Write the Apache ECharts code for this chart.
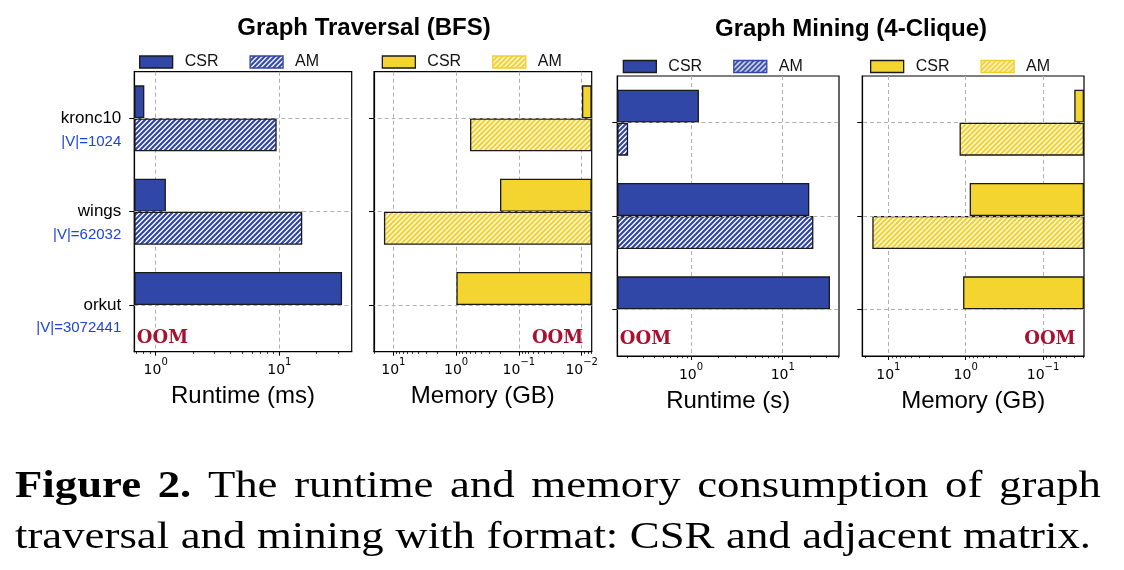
<!DOCTYPE html>
<html><head><meta charset="utf-8">
<script src="https://cdn.jsdelivr.net/npm/echarts@6/dist/echarts.min.js"></script>
<style>html,body{margin:0;padding:0;background:#fff}#c{width:1124px;height:570px}</style>
</head><body><div id="c"></div>
<script>
// ---------------- data ----------------
const categories = ['kronc10', 'wings', 'orkut'];
const vertexLabels = ['|V|=1024', '|V|=62032', '|V|=3072441'];
const bfsRuntimeCSR = [0.81, 1.21, 32.1];     // ms
const bfsRuntimeAM = [9.5, 15.3, null];       // null = OOM
const bfsMemoryCSR = [0.0099, 0.20, 0.99];    // GB
const bfsMemoryAM = [0.60, 14.1, null];
const miningRuntimeCSR = [1.22, 19.5, 32.8];  // s
const miningRuntimeAM = [0.206, 21.6, null];
const miningMemoryCSR = [0.0394, 0.887, 1.08];
const miningMemoryAM = [1.20, 16.1, null];
const legendNames = ['CSR', 'AM'];
const oomLabel = 'OOM';
const panelTitles = ['Graph Traversal (BFS)', 'Graph Mining (4-Clique)'];
const axisNames = ['Runtime (ms)', 'Memory (GB)', 'Runtime (s)', 'Memory (GB)'];
const captionBold = 'Figure 2.';
const captionRest1 = 'The runtime and memory consumption of graph';
const captionLine2 = 'traversal and mining with format: CSR and adjacent matrix.';

// ---------------- styling ----------------
const BLUE = '#3147a8', YELLOW = '#f4d42e', EDGE = '#1a1a1a', GRIDC = '#b0b0b0';
const SANS = 'Liberation Sans';
function hatch(bg, fg, lw) {
  const s = 5, c = document.createElement('canvas');
  c.width = c.height = s;
  const x = c.getContext('2d');
  x.fillStyle = bg; x.fillRect(0, 0, s, s);
  x.strokeStyle = fg; x.lineWidth = lw; x.beginPath();
  x.moveTo(0, s); x.lineTo(s, 0);
  x.moveTo(-1, 1); x.lineTo(1, -1);
  x.moveTo(s - 1, s + 1); x.lineTo(s + 1, s - 1);
  x.stroke();
  return { image: c, repeat: 'repeat' };
}
const blueHatch = hatch('#ffffff', BLUE, 2.2);
const yellowHatch = hatch('#fdf6d2', '#f0cf2a', 1.9);
function decadeLabel(v) {
  const e = Math.round(Math.log10(v));
  return '{a|10}{s|' + String(e).replace('-', '\u2212') + '}';
}
const tickRich = {
  a: { fontFamily: 'DejaVu Sans', fontSize: 14, lineHeight: 20, verticalAlign: 'bottom', color: '#000' },
  s: { fontFamily: 'DejaVu Sans', fontSize: 10, lineHeight: 15, verticalAlign: 'top', color: '#000' }
};
function decades(min, max) {
  const r = [];
  for (let k = Math.floor(Math.log10(min)); k <= Math.ceil(Math.log10(max)); k++) {
    const v = Math.pow(10, k); if (v >= min && v <= max) r.push(v);
  }
  return r;
}
function minors(min, max) {
  const r = [];
  for (let k = Math.floor(Math.log10(min)); k <= Math.ceil(Math.log10(max)); k++) {
    for (let m = 2; m <= 9; m++) { const v = m * Math.pow(10, k); if (v > min && v < max) r.push(v); }
  }
  return r;
}

const panels = [
  { csr: bfsRuntimeCSR, am: bfsRuntimeAM, range: [0.672, 38.4], inverse: false, color: BLUE, pat: blueHatch, amBorder: BLUE,
    grid: { left: 134.3, top: 71.7, width: 217.4, height: 280 }, legendLeft: 139, legendTop: 54, oomDy: 17 },
  { csr: bfsMemoryCSR, am: bfsMemoryAM, range: [0.00693, 20.3], inverse: true, color: YELLOW, pat: yellowHatch, amBorder: '#f0cf2a',
    grid: { left: 374, top: 71.7, width: 217.7, height: 280 }, legendLeft: 381.7, legendTop: 54, oomDy: 17 },
  { csr: miningRuntimeCSR, am: miningRuntimeAM, range: [0.157, 41.1], inverse: false, color: BLUE, pat: blueHatch, amBorder: BLUE,
    grid: { left: 617.3, top: 76, width: 221.7, height: 280 }, legendLeft: 622.7, legendTop: 58.5, oomDy: 13 },
  { csr: miningMemoryCSR, am: miningMemoryAM, range: [0.0295, 21.7], inverse: true, color: YELLOW, pat: yellowHatch, amBorder: '#f0cf2a',
    grid: { left: 862.3, top: 76, width: 221.7, height: 280 }, legendLeft: 870, legendTop: 58.5, oomDy: 13 }
];
const zw = i => '\u200b'.repeat(i);

const grid = [], xAxis = [], yAxis = [], series = [], legend = [];
panels.forEach((p, i) => {
  grid.push(Object.assign({ show: true, borderColor: '#000', borderWidth: 1.2, backgroundColor: 'transparent' }, p.grid));
  xAxis.push({
    type: 'log', logBase: 10, gridIndex: i, min: p.range[0], max: p.range[1], inverse: p.inverse, startValue: p.range[0],
    axisLine: { show: true, onZero: false, lineStyle: { color: '#000', width: 1.2 } },
    axisTick: { show: true, length: 4, customValues: decades(p.range[0], p.range[1]), lineStyle: { color: '#000', width: 1 } },
    axisLabel: { show: true, formatter: decadeLabel, showMinLabel: false, showMaxLabel: false, rich: tickRich, margin: 6 },
    splitLine: { show: true, lineStyle: { color: GRIDC, type: [4, 3], width: 1 } },
    name: axisNames[i], nameLocation: 'middle', nameGap: 33,
    nameTextStyle: { fontFamily: SANS, fontSize: 24, color: '#000' }
  });
  xAxis.push({
    type: 'log', logBase: 10, gridIndex: i, min: p.range[0], max: p.range[1], inverse: p.inverse, position: 'bottom',
    axisLine: { show: false, onZero: false }, axisLabel: { show: false }, splitLine: { show: false },
    axisTick: { show: true, length: 2.2, customValues: minors(p.range[0], p.range[1]), lineStyle: { color: '#000', width: 0.8 } }
  });
  yAxis.push({
    type: 'category', gridIndex: i, data: categories, inverse: true,
    axisLine: { show: true, onZero: false, lineStyle: { color: '#000', width: 1.2 } },
    axisTick: { show: true, alignWithLabel: true, length: 5, lineStyle: { color: '#000', width: 1 } },
    splitLine: { show: false },
    axisLabel: i === 0 ? {
      show: true, margin: 13, padding: [23, 0, 0, 0],
      formatter: (v, idx) => '{a|' + v + '}\n{b|' + vertexLabels[idx] + '}',
      rich: {
        a: { fontFamily: SANS, fontSize: 17, color: '#000', lineHeight: 23, align: 'right' },
        b: { fontFamily: SANS, fontSize: 15, color: '#1f45d8', lineHeight: 23, align: 'right' }
      }
    } : { show: false }
  });
  const csrName = legendNames[0] + zw(i), amName = legendNames[1] + zw(i);
  series.push({
    type: 'line', data: [], xAxisIndex: 2 * i, yAxisIndex: i, z: 1, silent: true,
    markLine: { silent: true, animation: false, symbol: ['none', 'none'], label: { show: false },
      lineStyle: { color: GRIDC, type: [4, 3], width: 1 }, data: categories.map(c => ({ yAxis: c })) }
  });
  series.push({
    type: 'bar', name: csrName, xAxisIndex: 2 * i, yAxisIndex: i, data: p.csr, barWidth: 33, barGap: '0%', z: 2,
    animation: false, itemStyle: { color: p.color, borderColor: EDGE, borderWidth: 1.3 }
  });
  series.push({
    type: 'bar', name: amName, xAxisIndex: 2 * i, yAxisIndex: i, data: p.am, barWidth: 33, barGap: '0%', z: 2,
    animation: false, itemStyle: { color: p.pat, borderColor: EDGE, borderWidth: 1.3 },
    markPoint: {
      silent: true, animation: false, symbol: 'rect', symbolSize: 1, itemStyle: { color: 'rgba(0,0,0,0)' },
      data: [{ coord: [p.range[0], categories[2]], name: 'oom' }],
      label: { show: true, formatter: oomLabel, position: p.inverse ? 'left' : 'right', distance: p.inverse ? 8 : 2,
        offset: [0, p.oomDy], color: '#a8102e', fontFamily: 'DejaVu Serif', fontWeight: 'bold', fontSize: 18 }
    }
  });
  legend.push({
    left: p.legendLeft, top: p.legendTop, padding: 0, itemGap: 31, itemWidth: 33, itemHeight: 12, icon: 'rect',
    selectedMode: false, formatter: n => n.replace(/\u200b/g, ''),
    textStyle: { fontFamily: SANS, fontSize: 16, color: '#111', padding: [0, 0, 0, 7] },
    data: [
      { name: csrName, itemStyle: { borderColor: EDGE, borderWidth: 1.3 } },
      { name: amName, itemStyle: { borderColor: p.amBorder, borderWidth: 1.3 } }
    ]
  });
});

// caption: justified word-by-word layout (widened serif, like the reference)
const CAP_SIZE = 37, CAP_FAMILY = 'Liberation Serif', CAP_STRETCH = 1.21;
const mctx = document.createElement('canvas').getContext('2d');
function w(text, bold) { mctx.font = (bold ? 'bold ' : '') + CAP_SIZE + 'px "' + CAP_FAMILY + '"'; return mctx.measureText(text).width; }
function captionLine(words, x0, x1, y) {
  const widths = words.map(o => w(o.t, o.b) * CAP_STRETCH);
  const total = widths.reduce((a, b) => a + b, 0);
  const gap = (x1 - x0 - total) / (words.length - 1);
  let x = x0;
  return words.map((o, k) => {
    const el = { type: 'text', x: x, y: y, scaleX: CAP_STRETCH, silent: true,
      style: { text: o.t, fill: '#000', fontFamily: CAP_FAMILY, fontSize: CAP_SIZE, fontWeight: o.b ? 'bold' : 'normal',
        verticalAlign: 'middle', align: 'left' } };
    x += widths[k] + gap;
    return el;
  });
}
const line1Words = captionBold.split(' ').map(t => ({ t, b: true })).concat(captionRest1.split(' ').map(t => ({ t, b: false })));
const line2Words = captionLine2.split(' ').map(t => ({ t, b: false }));
const captionGraphic = captionLine(line1Words, 15, 1101, 487.5).concat(captionLine(line2Words, 15, 1091, 538.5));

const chart = echarts.init(document.getElementById('c'), null, { renderer: 'canvas' });
chart.setOption({
  animation: false,
  backgroundColor: '#fff',
  title: [
    { text: panelTitles[0], left: 364, top: 16, textAlign: 'center', padding: 0,
      textStyle: { fontFamily: SANS, fontWeight: 'bold', fontSize: 24, color: '#000' } },
    { text: panelTitles[1], left: 851, top: 17.5, textAlign: 'center', padding: 0,
      textStyle: { fontFamily: SANS, fontWeight: 'bold', fontSize: 24, color: '#000' } }
  ],
  legend, grid, xAxis, yAxis, series,
  graphic: captionGraphic
});
</script></body></html>
